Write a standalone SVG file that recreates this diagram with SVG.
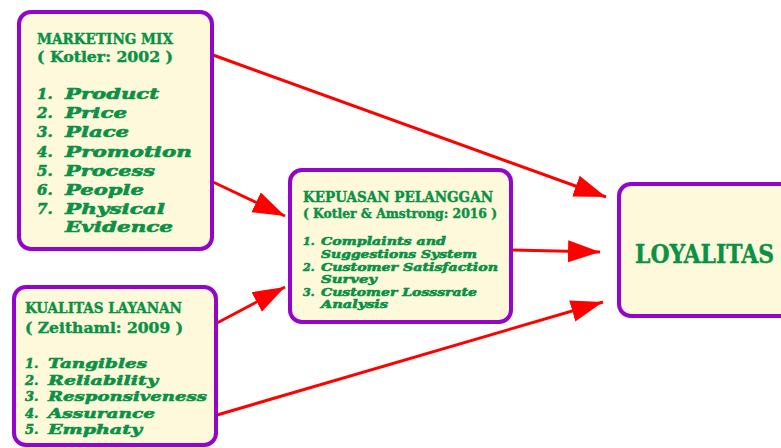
<svg xmlns="http://www.w3.org/2000/svg" width="781" height="448" viewBox="0 0 781 448">
<style>
.box{fill:#fdf9da;stroke:#9405c9;stroke-width:4}
.t{font-family:"DejaVu Serif Condensed","DejaVu Serif","Liberation Serif",serif;font-weight:bold;fill:#0b9146;stroke:#0b9146;stroke-width:0.4}
.i{font-family:"DejaVu Serif",serif;font-weight:bold;font-style:italic;fill:#0b9146;stroke:#0b9146;stroke-width:0.6}
.c{stroke:#ff0000;stroke-width:3;fill:none}
</style>
<defs>
<marker id="ah" markerUnits="userSpaceOnUse" markerWidth="34" markerHeight="24" refX="32" refY="11" orient="auto">
<path d="M0,0 L32,11 L0,22 Z" fill="#ff0000"/>
</marker>
</defs>
<rect width="781" height="448" fill="#ffffff"/>
<g id="connectors">
<line class="c" x1="213" y1="55" x2="606" y2="197" marker-end="url(#ah)"/>
<line class="c" x1="213" y1="182" x2="285" y2="216" marker-end="url(#ah)"/>
<line class="c" x1="217" y1="323" x2="285" y2="287" marker-end="url(#ah)"/>
<line class="c" x1="512" y1="250" x2="600" y2="252" marker-end="url(#ah)"/>
<line class="c" x1="217" y1="415" x2="603" y2="302" marker-end="url(#ah)"/>
</g>
<g id="marketing-mix">
<rect class="box" x="19" y="12" width="193" height="237" rx="12"/>
<text class="t" x="37" y="44" font-size="15" textLength="136" lengthAdjust="spacingAndGlyphs">MARKETING MIX</text>
<text class="t" x="37" y="62" font-size="15" textLength="136" lengthAdjust="spacingAndGlyphs">( Kotler: 2002 )</text>
<g class="i" font-size="15">
<text x="37" y="99">1.</text><text x="65" y="99" textLength="94" lengthAdjust="spacingAndGlyphs">Product</text>
<text x="37" y="118">2.</text><text x="65" y="118" textLength="62" lengthAdjust="spacingAndGlyphs">Price</text>
<text x="37" y="137">3.</text><text x="65" y="137" textLength="64" lengthAdjust="spacingAndGlyphs">Place</text>
<text x="37" y="157">4.</text><text x="65" y="157" textLength="127" lengthAdjust="spacingAndGlyphs">Promotion</text>
<text x="37" y="176">5.</text><text x="65" y="176" textLength="90" lengthAdjust="spacingAndGlyphs">Process</text>
<text x="37" y="195">6.</text><text x="65" y="195" textLength="79" lengthAdjust="spacingAndGlyphs">People</text>
<text x="37" y="214">7.</text><text x="65" y="214" textLength="100" lengthAdjust="spacingAndGlyphs">Physical</text>
<text x="65" y="232" textLength="108" lengthAdjust="spacingAndGlyphs">Evidence</text>
</g>
</g>
<g id="kualitas-layanan">
<rect class="box" x="14" y="287" width="202" height="158" rx="12"/>
<text class="t" x="25" y="313" font-size="15" textLength="157" lengthAdjust="spacingAndGlyphs">KUALITAS LAYANAN</text>
<text class="t" x="25" y="333" font-size="15" textLength="158" lengthAdjust="spacingAndGlyphs">( Zeithaml: 2009 )</text>
<g class="i" font-size="13">
<text x="25" y="368">1.</text><text x="48" y="368" textLength="99" lengthAdjust="spacingAndGlyphs">Tangibles</text>
<text x="25" y="385">2.</text><text x="48" y="385" textLength="110" lengthAdjust="spacingAndGlyphs">Reliability</text>
<text x="25" y="401">3.</text><text x="48" y="401" textLength="159" lengthAdjust="spacingAndGlyphs">Responsiveness</text>
<text x="25" y="418">4.</text><text x="48" y="418" textLength="107" lengthAdjust="spacingAndGlyphs">Assurance</text>
<text x="25" y="434">5.</text><text x="48" y="434" textLength="94" lengthAdjust="spacingAndGlyphs">Emphaty</text>
</g>
</g>
<g id="kepuasan-pelanggan">
<rect class="box" x="290" y="170" width="221" height="152" rx="12"/>
<text class="t" x="303" y="202" font-size="15" textLength="190" lengthAdjust="spacingAndGlyphs">KEPUASAN PELANGGAN</text>
<text class="t" x="303" y="218" font-size="12" textLength="194" lengthAdjust="spacingAndGlyphs">( Kotler &amp; Amstrong: 2016 )</text>
<g class="i" font-size="11">
<text x="303" y="245">1.</text><text x="321" y="245" textLength="125" lengthAdjust="spacingAndGlyphs">Complaints and</text>
<text x="321" y="258" textLength="156" lengthAdjust="spacingAndGlyphs">Suggestions System</text>
<text x="303" y="271">2.</text><text x="321" y="271" textLength="177" lengthAdjust="spacingAndGlyphs">Customer Satisfaction</text>
<text x="321" y="283" textLength="56" lengthAdjust="spacingAndGlyphs">Survey</text>
<text x="303" y="296">3.</text><text x="321" y="296" textLength="156" lengthAdjust="spacingAndGlyphs">Customer Losssrate</text>
<text x="321" y="308" textLength="67" lengthAdjust="spacingAndGlyphs">Analysis</text>
</g>
</g>
<g id="loyalitas">
<rect class="box" x="619" y="184" width="180" height="132" rx="12"/>
<text class="t" x="635" y="263" font-size="26" textLength="139" lengthAdjust="spacingAndGlyphs">LOYALITAS</text>
</g>
</svg>
